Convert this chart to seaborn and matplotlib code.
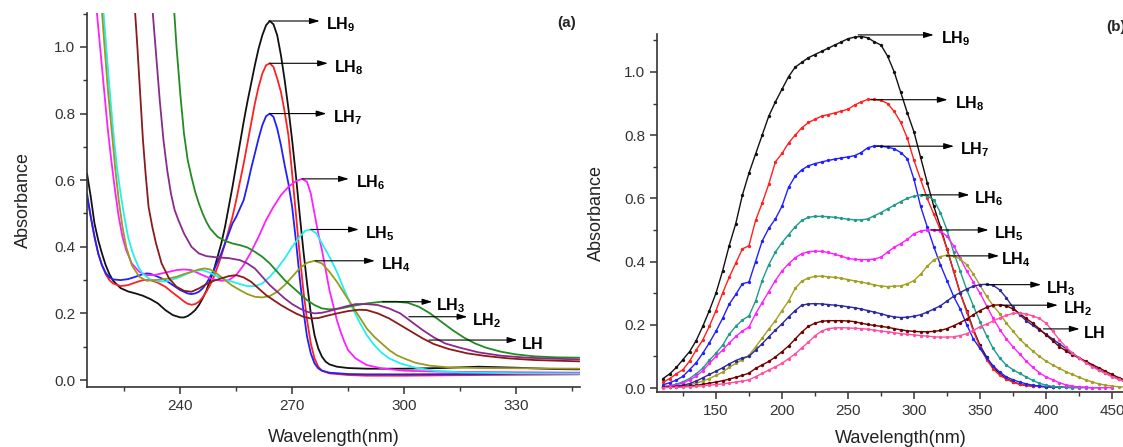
import matplotlib
matplotlib.use('Agg')
import matplotlib.pyplot as plt
import seaborn as sns
from matplotlib.ticker import MultipleLocator

sns.set_style('ticks')
plt.rcParams['font.family'] = ['Liberation Sans', 'DejaVu Sans']
plt.rcParams['mathtext.fontset'] = 'custom'
plt.rcParams['mathtext.rm'] = 'Liberation Sans'
plt.rcParams['mathtext.bf'] = 'Liberation Sans:bold'

# ---------- panel (a): (wavelength, absorbance) ----------
lh9_a = [(215, 0.62), (216, 0.55), (217, 0.47), (218, 0.42), (219, 0.38), (220, 0.345),
         (221, 0.318), (222, 0.298), (224, 0.276), (226, 0.266), (228, 0.26), (230, 0.253),
         (232, 0.243), (234, 0.23), (236, 0.21), (238, 0.195), (240, 0.188), (241, 0.188),
         (242, 0.192), (243, 0.2), (244, 0.21), (245, 0.225), (246, 0.245), (247, 0.268),
         (248, 0.3), (249, 0.33), (250, 0.37), (251, 0.41), (252, 0.46), (253, 0.52),
         (254, 0.58), (255, 0.645), (256, 0.71), (257, 0.775), (258, 0.835), (259, 0.89),
         (260, 0.945), (261, 0.995), (262, 1.035), (263, 1.065), (264, 1.078), (265, 1.068),
         (266, 1.035), (267, 0.975), (268, 0.9), (269, 0.815), (270, 0.72), (271, 0.615),
         (272, 0.5), (273, 0.39), (274, 0.29), (275, 0.2), (276, 0.135), (277, 0.095),
         (278, 0.07), (279, 0.055), (280, 0.047), (282, 0.04), (285, 0.036), (290, 0.034),
         (300, 0.034), (310, 0.036), (320, 0.04), (330, 0.037), (340, 0.033), (347, 0.032)]
lh8_a = [(215, 0.55), (216, 0.49), (217, 0.43), (218, 0.38), (219, 0.345), (220, 0.318),
         (221, 0.30), (222, 0.29), (224, 0.282), (226, 0.285), (228, 0.293), (230, 0.30),
         (232, 0.30), (234, 0.292), (236, 0.28), (238, 0.262), (240, 0.245), (241, 0.236),
         (242, 0.229), (243, 0.226), (244, 0.228), (245, 0.235), (246, 0.248), (247, 0.265),
         (248, 0.285), (249, 0.31), (250, 0.34), (251, 0.372), (252, 0.41), (253, 0.45),
         (254, 0.49), (255, 0.54), (256, 0.595), (257, 0.65), (258, 0.71), (259, 0.77),
         (260, 0.83), (261, 0.88), (262, 0.92), (263, 0.945), (264, 0.951), (265, 0.94),
         (266, 0.905), (267, 0.865), (268, 0.805), (269, 0.735), (270, 0.62), (271, 0.5),
         (272, 0.38), (273, 0.27), (274, 0.18), (275, 0.11), (276, 0.065), (277, 0.04),
         (278, 0.028), (280, 0.02), (285, 0.015), (290, 0.013), (300, 0.013), (320, 0.015),
         (347, 0.017)]
lh7_a = [(215, 0.56), (216, 0.49), (217, 0.43), (218, 0.38), (219, 0.345), (220, 0.322),
         (221, 0.308), (222, 0.302), (224, 0.30), (226, 0.303), (228, 0.31), (230, 0.318),
         (231, 0.32), (232, 0.319), (234, 0.31), (236, 0.30), (238, 0.285), (240, 0.27),
         (242, 0.26), (243, 0.258), (244, 0.26), (245, 0.265), (246, 0.275), (247, 0.29),
         (248, 0.31), (249, 0.33), (250, 0.355), (251, 0.38), (252, 0.41), (253, 0.44),
         (254, 0.47), (255, 0.49), (256, 0.515), (257, 0.54), (258, 0.585), (259, 0.635),
         (260, 0.68), (261, 0.725), (262, 0.765), (263, 0.792), (264, 0.80), (265, 0.79),
         (266, 0.755), (267, 0.705), (268, 0.645), (269, 0.59), (270, 0.52), (271, 0.42),
         (272, 0.31), (273, 0.21), (274, 0.13), (275, 0.08), (276, 0.05), (277, 0.035),
         (278, 0.028), (280, 0.022), (285, 0.018), (290, 0.017), (300, 0.017), (320, 0.018),
         (347, 0.02)]
lh6_a = [(217.5, 1.12), (218.5, 1.0), (219.5, 0.88), (220.5, 0.76), (221.5, 0.66), (222.5, 0.57),
         (223.5, 0.49), (224.5, 0.43), (225.5, 0.39), (227, 0.35), (229, 0.325), (231, 0.315),
         (233, 0.315), (235, 0.32), (237, 0.325), (239, 0.33), (241, 0.332), (243, 0.33),
         (245, 0.32), (247, 0.31), (249, 0.302), (251, 0.298), (253, 0.30), (255, 0.315),
         (257, 0.345), (259, 0.385), (261, 0.43), (263, 0.48), (265, 0.52), (267, 0.555),
         (269, 0.58), (271, 0.597), (272.7, 0.604), (274, 0.595), (275, 0.56), (276, 0.5),
         (277, 0.44), (278, 0.39), (279, 0.33), (280, 0.27), (281, 0.225), (282, 0.18),
         (283, 0.145), (284, 0.115), (285, 0.09), (287, 0.065), (290, 0.045), (294, 0.035),
         (300, 0.028), (310, 0.025), (320, 0.024), (347, 0.022)]
lh5_a = [(219.3, 1.12), (220, 1.02), (221, 0.88), (222, 0.75), (223, 0.64), (224, 0.56),
         (225, 0.49), (226, 0.43), (227, 0.39), (228, 0.36), (229, 0.335), (230, 0.318),
         (232, 0.302), (234, 0.296), (236, 0.296), (238, 0.302), (240, 0.31), (242, 0.32),
         (244, 0.328), (246, 0.33), (248, 0.322), (250, 0.31), (252, 0.302), (254, 0.295),
         (256, 0.288), (258, 0.282), (260, 0.282), (262, 0.29), (264, 0.31), (266, 0.335),
         (268, 0.365), (270, 0.4), (272, 0.43), (273.5, 0.448), (275, 0.452), (276.5, 0.44),
         (278, 0.41), (280, 0.37), (282, 0.325), (284, 0.27), (286, 0.22), (288, 0.175),
         (290, 0.135), (292, 0.105), (294, 0.082), (296, 0.065), (299, 0.05), (303, 0.037),
         (308, 0.028), (315, 0.023), (330, 0.02), (347, 0.019)]
lh4_a = [(218.9, 1.12), (219.7, 1.0), (220.6, 0.87), (221.6, 0.75), (222.6, 0.63), (223.5, 0.54),
         (224.5, 0.46), (225.5, 0.4), (227, 0.345), (229, 0.31), (231, 0.298), (233, 0.30),
         (235, 0.302), (237, 0.305), (239, 0.31), (241, 0.318), (243, 0.325), (245, 0.332),
         (246.5, 0.335), (248, 0.332), (250, 0.318), (252, 0.3), (254, 0.283), (256, 0.27),
         (258, 0.258), (260, 0.25), (262, 0.248), (264, 0.252), (266, 0.265), (268, 0.285),
         (270, 0.31), (272, 0.335), (274, 0.352), (276, 0.358), (278, 0.35), (280, 0.325),
         (282, 0.295), (284, 0.26), (286, 0.225), (288, 0.19), (290, 0.155), (292, 0.13),
         (294, 0.11), (296, 0.09), (298, 0.075), (300, 0.065), (303, 0.052), (307, 0.043),
         (312, 0.038), (320, 0.036), (347, 0.034)]
lh3_a = [(238.3, 1.12), (239, 1.0), (240, 0.86), (241, 0.74), (242, 0.66), (243, 0.61),
         (244, 0.565), (245, 0.53), (246, 0.5), (247, 0.475), (248, 0.455), (250, 0.43),
         (252, 0.418), (254, 0.41), (256, 0.405), (258, 0.398), (260, 0.385), (262, 0.37),
         (264, 0.35), (266, 0.325), (268, 0.30), (270, 0.28), (272, 0.26), (274, 0.24),
         (276, 0.225), (278, 0.215), (280, 0.212), (283, 0.215), (286, 0.222), (290, 0.23),
         (294, 0.235), (298, 0.235), (301, 0.232), (304, 0.22), (307, 0.2), (310, 0.175),
         (313, 0.15), (316, 0.128), (319, 0.11), (322, 0.097), (326, 0.085), (330, 0.077),
         (335, 0.071), (341, 0.068), (347, 0.067)]
lh2_a = [(232.5, 1.12), (233.5, 0.98), (234.5, 0.84), (235.5, 0.72), (236.5, 0.63), (237.5, 0.56),
         (238.5, 0.51), (239.5, 0.48), (241, 0.44), (243, 0.40), (245, 0.38), (247, 0.372),
         (250, 0.368), (253, 0.366), (256, 0.36), (258, 0.35), (260, 0.335), (262, 0.31),
         (264, 0.285), (266, 0.265), (268, 0.245), (270, 0.228), (272, 0.215), (274, 0.205),
         (276, 0.2), (278, 0.202), (281, 0.21), (284, 0.22), (287, 0.228), (290, 0.228),
         (293, 0.225), (296, 0.215), (299, 0.2), (302, 0.175), (305, 0.15), (308, 0.128),
         (311, 0.11), (315, 0.097), (320, 0.083), (326, 0.073), (333, 0.067), (340, 0.064),
         (347, 0.062)]
lh1_a = [(227.8, 1.12), (228.5, 1.0), (229.3, 0.85), (230, 0.72), (230.7, 0.62), (231.5, 0.52),
         (232.5, 0.46), (233.5, 0.41), (235, 0.35), (237, 0.305), (239, 0.28), (241, 0.268),
         (243, 0.265), (245, 0.275), (247, 0.288), (249, 0.298), (251, 0.305), (253, 0.312),
         (255, 0.315), (257, 0.308), (259, 0.295), (261, 0.275), (263, 0.255), (265, 0.24),
         (267, 0.225), (269, 0.212), (271, 0.2), (273, 0.19), (275, 0.185), (277, 0.186),
         (279, 0.192), (282, 0.2), (285, 0.207), (288, 0.211), (290, 0.21), (293, 0.2),
         (296, 0.185), (299, 0.165), (302, 0.145), (305, 0.125), (308, 0.108), (312, 0.093),
         (317, 0.08), (322, 0.072), (328, 0.065), (335, 0.06), (341, 0.058), (347, 0.056)]

# ---------- panel (b): sampled every 5 nm from 110 nm ----------
wl_b = list(range(110, 465, 5))
lh9_b = [0.03, 0.045, 0.065, 0.09, 0.115, 0.15, 0.195, 0.245, 0.30, 0.37,
         0.45, 0.52, 0.61, 0.68, 0.74, 0.80, 0.86, 0.905, 0.945, 0.985,
         1.015, 1.03, 1.045, 1.055, 1.065, 1.075, 1.085, 1.095, 1.105, 1.11,
         1.112, 1.108, 1.095, 1.085, 1.05, 1.0, 0.935, 0.87, 0.81, 0.73,
         0.65, 0.575, 0.51, 0.44, 0.37, 0.30, 0.245, 0.185, 0.135, 0.098,
         0.065, 0.045, 0.03, 0.02, 0.012, 0.008, 0.006, 0.005, 0.004, 0.003,
         0.003]
lh8_b = [0.018, 0.03, 0.045, 0.058, 0.085, 0.12, 0.152, 0.195, 0.245, 0.30,
         0.35, 0.395, 0.44, 0.45, 0.53, 0.585, 0.645, 0.715, 0.742, 0.775,
         0.80, 0.823, 0.84, 0.85, 0.86, 0.865, 0.87, 0.876, 0.882, 0.895,
         0.905, 0.913, 0.913, 0.91, 0.90, 0.875, 0.84, 0.79, 0.72, 0.66,
         0.60, 0.55, 0.50, 0.44, 0.37, 0.30, 0.24, 0.18, 0.13, 0.09,
         0.06, 0.04, 0.028, 0.018, 0.012, 0.008, 0.006, 0.005, 0.004, 0.003,
         0.003, 0.002, 0.002]
lh7_b = [0.01, 0.017, 0.025, 0.037, 0.058, 0.08, 0.11, 0.143, 0.18, 0.22,
         0.265, 0.296, 0.33, 0.335, 0.40, 0.465, 0.505, 0.535, 0.575, 0.635,
         0.67, 0.69, 0.703, 0.71, 0.715, 0.72, 0.724, 0.728, 0.731, 0.735,
         0.745, 0.76, 0.766, 0.765, 0.762, 0.757, 0.745, 0.725, 0.66, 0.575,
         0.51, 0.447, 0.39, 0.34, 0.29, 0.25, 0.20, 0.155, 0.125, 0.095,
         0.07, 0.05, 0.035, 0.026, 0.019, 0.013, 0.009, 0.006, 0.004, 0.003,
         0.003, 0.002, 0.002, 0.002, 0.002]
lh6_b = [0.004, 0.007, 0.012, 0.02, 0.03, 0.045, 0.063, 0.088, 0.11, 0.135,
         0.17, 0.195, 0.215, 0.228, 0.275, 0.34, 0.39, 0.43, 0.46, 0.485,
         0.51, 0.53, 0.54, 0.543, 0.543, 0.542, 0.54, 0.537, 0.534, 0.532,
         0.532, 0.535, 0.545, 0.555, 0.567, 0.578, 0.59, 0.60, 0.607, 0.611,
         0.608, 0.595, 0.555, 0.50, 0.43, 0.37, 0.31, 0.26, 0.21, 0.165,
         0.125, 0.095, 0.072, 0.058, 0.046, 0.035, 0.024, 0.015, 0.009, 0.005,
         0.003, 0.002, 0.001, 0.001, 0.001, 0.001, 0.001]
lh5_b = [0.004, 0.007, 0.01, 0.016, 0.025, 0.037, 0.055, 0.078, 0.10, 0.12,
         0.142, 0.163, 0.18, 0.193, 0.235, 0.27, 0.305, 0.34, 0.37, 0.393,
         0.412, 0.425, 0.431, 0.433, 0.432, 0.429, 0.423, 0.417, 0.41, 0.407,
         0.406, 0.406, 0.408, 0.414, 0.43, 0.445, 0.457, 0.47, 0.488, 0.497,
         0.50, 0.50, 0.497, 0.48, 0.45, 0.41, 0.37, 0.335, 0.30, 0.26,
         0.22, 0.185, 0.155, 0.13, 0.108, 0.085, 0.065, 0.048, 0.035, 0.026,
         0.017, 0.01, 0.006, 0.003, 0.002, 0.001, 0.001, 0.001, 0.001]
lh4_b = [0.003, 0.004, 0.005, 0.007, 0.01, 0.015, 0.022, 0.03, 0.04, 0.05,
         0.065, 0.078, 0.09, 0.103, 0.13, 0.158, 0.186, 0.213, 0.245, 0.275,
         0.315, 0.338, 0.348, 0.353, 0.354, 0.352, 0.35, 0.347, 0.343, 0.339,
         0.335, 0.331, 0.326, 0.322, 0.321, 0.322, 0.323, 0.33, 0.34, 0.36,
         0.385, 0.405, 0.416, 0.42, 0.418, 0.408, 0.39, 0.36, 0.325, 0.29,
         0.26, 0.235, 0.205, 0.18, 0.155, 0.135, 0.117, 0.10, 0.085, 0.073,
         0.062, 0.052, 0.043, 0.034, 0.026, 0.019, 0.013, 0.009, 0.006, 0.004,
         0.003]
lh3_b = [0.002, 0.004, 0.006, 0.009, 0.014, 0.022, 0.032, 0.043, 0.053, 0.064,
         0.076, 0.087, 0.095, 0.10, 0.12, 0.14, 0.162, 0.183, 0.203, 0.225,
         0.245, 0.262, 0.266, 0.267, 0.266, 0.264, 0.262, 0.26, 0.257, 0.254,
         0.25, 0.245, 0.24, 0.235, 0.229, 0.225, 0.223, 0.224, 0.227, 0.232,
         0.24, 0.25, 0.26, 0.275, 0.29, 0.302, 0.313, 0.322, 0.327, 0.328,
         0.325, 0.31, 0.285, 0.255, 0.232, 0.213, 0.198, 0.184, 0.17, 0.155,
         0.14, 0.125, 0.11, 0.096, 0.082, 0.07, 0.058, 0.047, 0.037, 0.028,
         0.02]
lh2_b = [0.002, 0.003, 0.004, 0.005, 0.006, 0.008, 0.012, 0.015, 0.019, 0.023,
         0.028, 0.034, 0.04, 0.047, 0.062, 0.073, 0.084, 0.098, 0.115, 0.133,
         0.155, 0.177, 0.195, 0.205, 0.211, 0.213, 0.213, 0.213, 0.212, 0.21,
         0.205, 0.201, 0.198, 0.195, 0.192, 0.188, 0.184, 0.181, 0.179, 0.178,
         0.178, 0.179, 0.182, 0.188, 0.197, 0.207, 0.218, 0.232, 0.245, 0.255,
         0.262, 0.263, 0.26, 0.25, 0.236, 0.22, 0.205, 0.187, 0.168, 0.15,
         0.131, 0.118, 0.105, 0.095, 0.085, 0.074, 0.064, 0.053, 0.043, 0.033,
         0.025]
lh1_b = [0.001, 0.002, 0.002, 0.003, 0.004, 0.005, 0.007, 0.009, 0.011, 0.013,
         0.016, 0.019, 0.022, 0.026, 0.036, 0.046, 0.057, 0.067, 0.078, 0.093,
         0.108, 0.127, 0.145, 0.165, 0.18, 0.188, 0.19, 0.191, 0.19, 0.189,
         0.188, 0.186, 0.183, 0.18, 0.178, 0.175, 0.172, 0.17, 0.168, 0.166,
         0.164, 0.162, 0.161, 0.161, 0.162, 0.166, 0.172, 0.182, 0.194, 0.202,
         0.212, 0.222, 0.23, 0.236, 0.237, 0.234, 0.228, 0.22, 0.205, 0.18,
         0.153, 0.13, 0.11, 0.095, 0.08, 0.068, 0.056, 0.046, 0.036, 0.027,
         0.02]

labels = ['9', '8', '7', '6', '5', '4', '3', '2', '']
curves_a = [lh9_a, lh8_a, lh7_a, lh6_a, lh5_a, lh4_a, lh3_a, lh2_a, lh1_a]
colors_a = ['#111111', '#ff2020', '#2020ff', '#ff20ff', '#20f0f0',
            '#9a9a20', '#228b22', '#8b2a8b', '#8b1a1a']
curves_b = [lh9_b, lh8_b, lh7_b, lh6_b, lh5_b, lh4_b, lh3_b, lh2_b, lh1_b]
colors_b = ['#111111', '#ff2020', '#2020ff', '#209a8a', '#ff20ff',
            '#a0a020', '#2a2a9a', '#700000', '#ff50a0']

# arrows: start wavelength, absorbance, arrow tip, label position
arrows_a = [(263.8, 1.078, 277.4, 279.2), (264.0, 0.951, 279.6, 281.1),
            (264.0, 0.800, 279.2, 281.0), (272.7, 0.604, 285.2, 287.0),
            (275.0, 0.452, 287.9, 289.5), (276.2, 0.358, 292.2, 293.7),
            (294.2, 0.235, 307.6, 308.5), (301.3, 0.190, 317.0, 318.3),
            (306.7, 0.120, 330.4, 331.5)]
arrows_b = [(257.7, 1.117, 315.0, 320.5), (267.3, 0.912, 325.5, 331.0),
            (271.4, 0.765, 330.3, 335.0), (305.9, 0.611, 342.0, 345.8),
            (313.0, 0.500, 356.5, 360.3), (324.6, 0.418, 364.5, 366.0),
            (354.3, 0.327, 396.3, 400.0), (366.0, 0.262, 409.0, 412.8),
            (398.0, 0.187, 425.5, 428.0)]

fig = plt.figure(figsize=(11.23, 4.47), dpi=100)
ax_a = fig.add_axes([0.0775, 0.1342, 0.439, 0.8367])
ax_b = fig.add_axes([0.585, 0.123, 0.4346, 0.801])

for pts, col in zip(curves_a, colors_a):
    xs = [p[0] for p in pts]
    ys = [p[1] for p in pts]
    sns.lineplot(x=xs, y=ys, color=col, lw=1.3, sort=False, ax=ax_a)

for ys, col in zip(curves_b, colors_b):
    sns.lineplot(x=wl_b[:len(ys)], y=ys, color=col, lw=1.0, marker='o',
                 markersize=2.4, markeredgewidth=0, sort=False, ax=ax_b)

def draw_arrows(ax, arrows, dy):
    for (x0, y0, x1, xt), sub in zip(arrows, labels):
        ax.annotate('', xy=(x1, y0), xytext=(x0, y0),
                    arrowprops=dict(arrowstyle='-|>,head_length=0.6,head_width=0.18',
                                    color='black', lw=0.8, shrinkA=0, shrinkB=0))
        txt = r'$\mathbf{LH}$' if sub == '' else r'$\mathbf{LH}_{\mathbf{%s}}$' % sub
        ax.text(xt, y0 - dy, txt, fontsize=11.5, ha='left', va='center', color='black')

draw_arrows(ax_a, arrows_a, 0.012)
draw_arrows(ax_b, arrows_b, 0.012)

ax_a.set_xlim(215, 347.2)
ax_a.set_ylim(-0.021, 1.102)
ax_a.set_xticks([240, 270, 300, 330])
ax_a.xaxis.set_minor_locator(MultipleLocator(15))

ax_b.set_xlim(105.3, 475)
ax_b.set_ylim(-0.0127, 1.12)
ax_b.xaxis.set_major_locator(MultipleLocator(50))
ax_b.xaxis.set_minor_locator(MultipleLocator(25))

for ax in (ax_a, ax_b):
    sns.despine(ax=ax)
    ax.yaxis.set_major_locator(MultipleLocator(0.2))
    ax.yaxis.set_minor_locator(MultipleLocator(0.1))
    ax.tick_params(which='major', direction='out', length=5, width=1.1,
                   labelsize=11, colors='#333333')
    ax.tick_params(which='minor', direction='out', length=3, width=1.0, colors='#333333')
    for s in ('left', 'bottom'):
        ax.spines[s].set_linewidth(1.2)
        ax.spines[s].set_color('#333333')

ax_a.set_xlabel('Wavelength(nm)', fontsize=13, color='#222222', labelpad=12)
ax_a.set_ylabel('Absorbance', fontsize=13, color='#222222', labelpad=16)
ax_b.set_xlabel('Wavelength(nm)', fontsize=13, color='#222222', labelpad=9)
ax_b.set_ylabel('Absorbance', fontsize=13, color='#222222', labelpad=14)

fig.text(567 / 1123, 1 - 23 / 447, '(a)', fontsize=11, fontweight='bold',
         ha='center', va='center')
fig.text(1106 / 1123, 1 - 27 / 447, '(b)', fontsize=11, fontweight='bold',
         ha='left', va='center')

fig.savefig('out.png', dpi=100)
